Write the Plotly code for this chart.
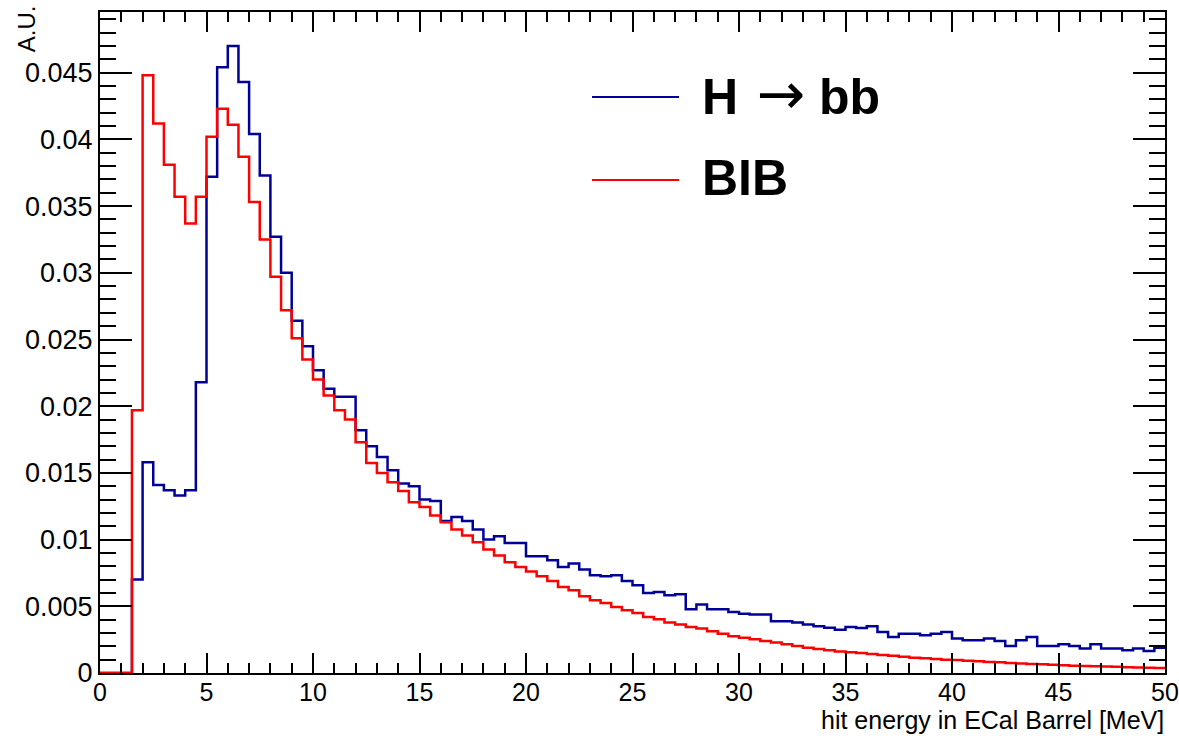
import numpy as np
import plotly.graph_objects as go

# ---------------- data ----------------
bin_width = 0.5
x_start = 0.0

hbb_values = [
    0.0, 0.0, 0.0, 0.0070, 0.0158, 0.0141, 0.0137, 0.0133, 0.0137, 0.0218,
    0.0372, 0.0454, 0.0470, 0.0443, 0.0404, 0.0373, 0.0327, 0.0300, 0.0264, 0.0245,
    0.0227, 0.0213, 0.0207, 0.0207, 0.0182, 0.0170, 0.0162, 0.0152, 0.0142, 0.0140,
    0.0130, 0.0129, 0.0114, 0.0117, 0.0114, 0.01075, 0.0100, 0.01025, 0.00975, 0.00975,
    0.00875, 0.00875, 0.00845, 0.00795, 0.0082, 0.00776, 0.00733, 0.00725, 0.00733, 0.0069,
    0.00658, 0.0060, 0.00608, 0.00583, 0.0059, 0.00478, 0.00513, 0.00478, 0.00478, 0.00458,
    0.00445, 0.00438, 0.00438, 0.00388, 0.00388, 0.00378, 0.00363, 0.0035, 0.0034, 0.00325,
    0.00345, 0.00338, 0.0035, 0.00308, 0.0027, 0.00295, 0.00295, 0.00283, 0.00295, 0.00308,
    0.00258, 0.00245, 0.00245, 0.00258, 0.0024, 0.00203, 0.00245, 0.0027, 0.00203, 0.00203,
    0.00215, 0.00203, 0.00183, 0.00215, 0.00183, 0.00183, 0.0017, 0.00183, 0.00165, 0.0019,
]

bib_values = [
    0.0, 0.0, 0.0, 0.0197, 0.0448, 0.0412, 0.0381, 0.0357, 0.0337, 0.0357,
    0.0402, 0.0423, 0.0411, 0.0387, 0.0353, 0.0325, 0.0297, 0.0272, 0.0251, 0.0235,
    0.0220, 0.0208, 0.0197, 0.0190, 0.0173, 0.01575, 0.0150, 0.0143, 0.01365, 0.0128,
    0.01245, 0.0118, 0.0113, 0.01075, 0.0103, 0.0098, 0.00925, 0.0088, 0.0083, 0.00795,
    0.0076, 0.00725, 0.0069, 0.00645, 0.0062, 0.00575, 0.00545, 0.00525, 0.00495, 0.0047,
    0.0045, 0.0042, 0.00403, 0.00378, 0.00363, 0.00345, 0.00333, 0.00313, 0.00295, 0.00275,
    0.00265, 0.00253, 0.0024, 0.00228, 0.00215, 0.00203, 0.0019, 0.0018, 0.0017, 0.00162,
    0.00155, 0.0015, 0.00142, 0.00135, 0.0013, 0.00122, 0.00115, 0.0011, 0.00105, 0.0010,
    0.00097, 0.00092, 0.00088, 0.00083, 0.0008, 0.00075, 0.00072, 0.00068, 0.00065, 0.00062,
    0.00058, 0.00055, 0.00053, 0.0005, 0.00048, 0.00046, 0.00044, 0.00042, 0.0004, 0.00038,
]

series_names = [
    "<b>H</b><span style=\"font-family:'DejaVu Sans';font-size:58px;font-weight:normal\"> →</span> <b>bb</b>",
    "<b>BIB</b>",
]
series_colors = ["#000099", "#ff0000"]

x_tick_vals = [0, 5, 10, 15, 20, 25, 30, 35, 40, 45, 50]
x_tick_text = ["0", "5", "10", "15", "20", "25", "30", "35", "40", "45", "50"]
y_tick_vals = [0, 0.005, 0.01, 0.015, 0.02, 0.025, 0.03, 0.035, 0.04, 0.045]
y_tick_text = ["0", "0.005", "0.01", "0.015", "0.02", "0.025", "0.03", "0.035", "0.04", "0.045"]

x_title = "hit energy in ECal Barrel [MeV]"
y_title = "A.U."

x_range = [0, 50]
y_range = [0, 0.04955]

# ---------------- figure ----------------
FONT = "Liberation Sans, Arial, Helvetica, sans-serif"

def step_xy(values):
    edges = x_start + bin_width * np.arange(len(values) + 1)
    ys = list(values) + [values[-1]]
    return edges, ys

fig = go.Figure()
for vals, name, col in zip([hbb_values, bib_values], series_names, series_colors):
    xs, ys = step_xy(vals)
    fig.add_trace(go.Scatter(
        x=xs, y=ys, mode="lines", name=name,
        line=dict(color=col, width=2.5, shape="hv"),
        showlegend=False, hoverinfo="skip",
    ))

# legend drawn ROOT-style (long line keys, large bold labels)
legend_line_y = [0.8714, 0.7458]
legend_text_y = [0.876, 0.7486]
for name, col, ly, ty in zip(series_names, series_colors, legend_line_y, legend_text_y):
    fig.add_shape(type="line", xref="paper", yref="paper",
                  x0=0.462, x1=0.5437, y0=ly, y1=ly,
                  line=dict(color=col, width=2))
    fig.add_annotation(xref="paper", yref="paper", x=0.5634, y=ty,
                       xanchor="left", yanchor="middle", showarrow=False,
                       text=name, font=dict(family=FONT, size=50, color="black"))

# axis titles
fig.add_annotation(xref="paper", yref="paper", x=1.0, y=-0.0711,
                   xanchor="right", yanchor="middle", showarrow=False, borderpad=0,
                   text=x_title, font=dict(family=FONT, size=25, color="black"))
fig.add_annotation(xref="paper", yref="paper", x=-0.0695, y=1.014,
                   xanchor="center", yanchor="top", showarrow=False, textangle=-90,
                   text=y_title, font=dict(family=FONT, size=24, color="black"))

axis_common = dict(
    showgrid=False, zeroline=False, showline=True, linecolor="black", linewidth=2,
    mirror="allticks", ticks="inside", tickcolor="black", tickwidth=2,
    automargin=False, ticklabeloverflow="allow",
)
fig.update_xaxes(
    range=x_range, tickmode="array", tickvals=x_tick_vals, ticktext=x_tick_text,
    ticklen=20, tickfont=dict(family=FONT, size=25, color="black"),
    ticklabelstandoff=-4,
    minor=dict(tickmode="linear", tick0=0, dtick=1, ticks="inside", ticklen=10,
               tickwidth=2, tickcolor="black", showgrid=False),
    **axis_common,
)
fig.update_yaxes(
    range=y_range, tickmode="array", tickvals=y_tick_vals, ticktext=y_tick_text,
    ticklen=32, tickfont=dict(family=FONT, size=27, color="black"),
    minor=dict(tickmode="linear", tick0=0, dtick=0.001, ticks="inside", ticklen=16,
               tickwidth=2, tickcolor="black", showgrid=False),
    **axis_common,
)

fig.update_layout(
    width=1179, height=736,
    margin=dict(l=100, r=14, t=12, b=63, autoexpand=False),
    paper_bgcolor="white", plot_bgcolor="white",
    font=dict(family=FONT, color="black"),
    showlegend=False,
)

fig.write_html(
    "out.html",
    config={"responsive": False, "displayModeBar": False},
    post_script="document.body.style.margin='0px';document.body.style.padding='0px';"
                "document.documentElement.style.overflow='hidden';",
)
